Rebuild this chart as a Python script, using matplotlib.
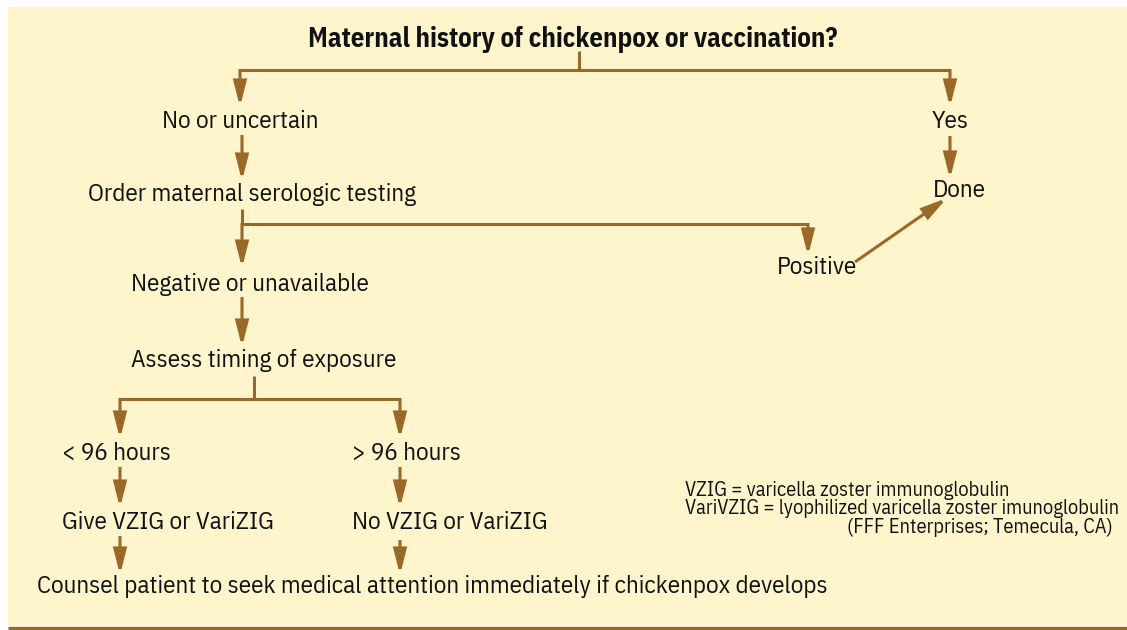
import matplotlib
matplotlib.use("Agg")
import matplotlib.pyplot as plt
from matplotlib.patches import Rectangle, FancyArrowPatch, ArrowStyle
from matplotlib.textpath import TextPath
from matplotlib.font_manager import FontProperties
from matplotlib import font_manager

# ---- content ----
title = "Maternal history of chickenpox or vaccination?"
left_nodes = ["No or uncertain", "Order maternal serologic testing",
              "Negative or unavailable", "Assess timing of exposure"]
right_nodes = ["Yes", "Done", "Positive"]
branch_labels = ["< 96 hours", "> 96 hours"]
branch_actions = ["Give VZIG or VariZIG", "No VZIG or VariZIG"]
final_text = "Counsel patient to seek medical attention immediately if chickenpox develops"
notes = ["VZIG = varicella zoster immunoglobulin",
         "VariVZIG = lyophilized varicella zoster imunoglobulin",
         "(FFF Enterprises; Temecula, CA)"]

# ---- style ----
CREAM = "#FEF5CC"
BROWN = "#9A6829"
INK = "#111111"
PX = 100 / 72.0  # pixels per point

names = {f.name for f in font_manager.fontManager.ttflist}
candidates = ["Fira Sans Condensed", "PT Sans Narrow", "Fira Sans Extra Condensed",
              "IBM Plex Sans Condensed", "Sofia Sans Condensed"]
candidates = [c for c in candidates if c in names] or ["DejaVu Sans"]

def width_pt(s, fam, weight="normal", size=20):
    return TextPath((0, 0), s, size=size, prop=FontProperties(family=fam, weight=weight)).get_extents().width

def cap_pt(fam, size):
    return TextPath((0, 0), "H", size=size, prop=FontProperties(family=fam)).get_extents().height

best = None
for fam in candidates:
    size = 20 * (790 / PX) / width_pt(final_text, fam)
    err = abs(cap_pt(fam, size) * PX - 18)
    if best is None or err < best[0]:
        best = (err, fam)
FONT = best[1]
plt.rcParams["font.family"] = [FONT, "DejaVu Sans"]

FS = 20 * (790 / PX) / width_pt(final_text, FONT)
FS_TITLE = 20 * (527 / PX) / width_pt(title, FONT, "bold")
FS_NOTE = 20 * (432 / PX) / width_pt(notes[1], FONT)

fig = plt.figure(figsize=(11.27, 6.3), dpi=100)
ax = fig.add_axes([0, 0, 1, 1])
ax.set_xlim(0, 1127)
ax.set_ylim(630, 0)
ax.axis("off")

ax.add_patch(Rectangle((8, 7), 1119, 619, facecolor=CREAM, edgecolor="none", zorder=0))
ax.plot([8, 1127], [627.5, 627.5], color=BROWN, lw=2.4, solid_capstyle="butt")

LW = 2.2

def line(xs, ys):
    ax.plot(xs, ys, color=BROWN, lw=LW, solid_capstyle="butt", solid_joinstyle="miter", zorder=2)

def arrow(x0, y0, x1, y1):
    st = ArrowStyle("-|>", head_length=1.5, head_width=0.38)
    p = FancyArrowPatch((x0, y0), (x1, y1), arrowstyle=st, mutation_scale=10,
                        color=BROWN, lw=LW, shrinkA=0, shrinkB=0, zorder=2,
                        joinstyle="miter", capstyle="butt")
    ax.add_patch(p)

def txt(x, y, s, ha="left", fs=None, **kw):
    ax.text(x, y, s, ha=ha, va="baseline", fontsize=fs or FS, color=INK, **kw)

# title
txt(573, 47, title, ha="center", fs=FS_TITLE, fontweight="bold")
line([579, 579], [51, 70])
line([240, 950], [70, 70])
arrow(240, 69, 240, 107)
arrow(950, 69, 950, 107)

# left column
txt(240, 128, left_nodes[0], ha="center")
arrow(242, 135, 242, 181)
txt(88, 201, left_nodes[1])
line([242, 242], [209, 225])
line([242, 808], [224, 224])
arrow(242, 223, 242, 268)
arrow(808, 223, 808, 256)
txt(131, 291, left_nodes[2])
arrow(242, 297, 242, 347)
txt(131, 367, left_nodes[3])
line([254, 254], [376, 399])
line([119, 400], [399, 399])
arrow(120, 398, 120, 439)
arrow(400, 398, 400, 439)

# right column
txt(950, 128, right_nodes[0], ha="center")
arrow(950, 136, 950, 179)
txt(933, 197, right_nodes[1])
txt(777, 274, right_nodes[2])
arrow(855, 262, 947, 198)

# branches
txt(62, 460, branch_labels[0])
txt(352, 460, branch_labels[1])
arrow(120, 467, 120, 508)
arrow(400, 467, 400, 508)
txt(62, 529, branch_actions[0])
txt(352, 529, branch_actions[1])
arrow(120, 536, 120, 575)
arrow(400, 540, 400, 575)
txt(37, 593, final_text)

# notes
txt(685, 496, notes[0], fs=FS_NOTE)
txt(685, 514, notes[1], fs=FS_NOTE)
txt(1113, 533, notes[2], ha="right", fs=FS_NOTE)

fig.savefig("out.png", dpi=100, facecolor="white")
